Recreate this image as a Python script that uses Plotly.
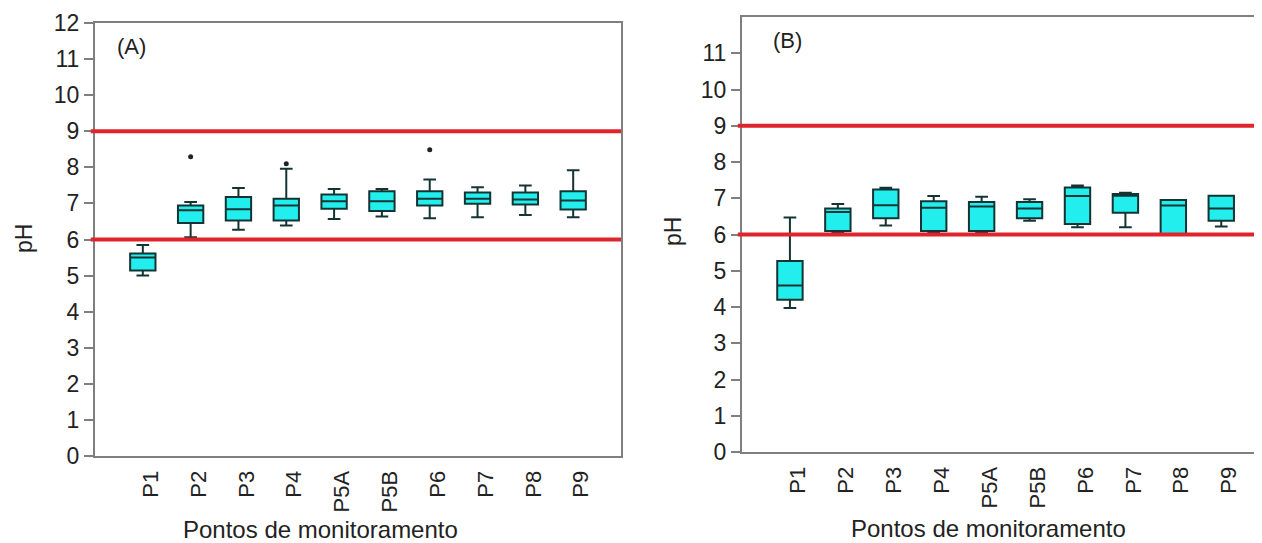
import plotly.graph_objects as go

categories = ["P1", "P2", "P3", "P4", "P5A", "P5B", "P6", "P7", "P8", "P9"]

# Panel A
a_lower = [5.00, 6.06, 6.27, 6.39, 6.57, 6.64, 6.59, 6.62, 6.68, 6.62]
a_q1 = [5.14, 6.46, 6.53, 6.53, 6.85, 6.79, 6.94, 6.99, 6.97, 6.83]
a_median = [5.50, 6.81, 6.84, 6.94, 7.06, 7.06, 7.13, 7.13, 7.11, 7.08]
a_q3 = [5.61, 6.94, 7.18, 7.13, 7.25, 7.34, 7.34, 7.30, 7.30, 7.34]
a_upper = [5.85, 7.04, 7.43, 7.96, 7.40, 7.40, 7.66, 7.45, 7.50, 7.92]
a_out_x = ["P2", "P4", "P6"]
a_out_y = [8.29, 8.10, 8.49]

# Panel B
b_lower = [3.97, 6.05, 6.25, 6.05, 6.05, 6.38, 6.20, 6.20, 5.99, 6.22]
b_q1 = [4.20, 6.10, 6.45, 6.10, 6.10, 6.45, 6.29, 6.60, 6.00, 6.38]
b_median = [4.59, 6.62, 6.81, 6.74, 6.77, 6.72, 7.06, 7.07, 6.80, 6.72]
b_q3 = [5.27, 6.72, 7.24, 6.92, 6.90, 6.90, 7.30, 7.12, 6.95, 7.07]
b_upper = [6.47, 6.84, 7.29, 7.06, 7.04, 6.97, 7.35, 7.15, 6.95, 7.07]

limits = [6, 9]
a_yticks = list(range(0, 13))
b_yticks = list(range(0, 12))

OFF = 8  # page body margin
W, H = 1262 - OFF, 543 - OFF
FONT = "Liberation Sans, Arial, sans-serif"
TXT = "#222222"
GRID = "#7f7f7f"
FILL = "#22eeee"
EDGE = "#143434"
RED = "#e0242c"

fig = go.Figure()

def add_boxes(lo, q1, med, q3, hi, xa, ya):
    fig.add_trace(go.Box(
        x=categories, q1=q1, median=med, q3=q3, lowerfence=lo, upperfence=hi,
        fillcolor=FILL, line=dict(color=EDGE, width=2), width=0.53,
        whiskerwidth=0.5, boxpoints=False, xaxis=xa, yaxis=ya,
        showlegend=False, hoverinfo="skip"))

add_boxes(a_lower, a_q1, a_median, a_q3, a_upper, "x", "y")
fig.add_trace(go.Scatter(x=a_out_x, y=a_out_y, mode="markers",
                         marker=dict(color="#222222", size=5),
                         xaxis="x", yaxis="y", showlegend=False, hoverinfo="skip"))
add_boxes(b_lower, b_q1, b_median, b_q3, b_upper, "x2", "y2")

def px_x(p):
    return (p - OFF) / W

def px_y(p):
    return (H - (p - OFF)) / H

common_x = dict(type="category", showline=True, linecolor=GRID, linewidth=2,
                ticks="", tickangle=-90, showgrid=False, zeroline=False,
                automargin=False, ticklabelshift=8, ticklabelstandoff=4,
                tickfont=dict(family=FONT, size=22, color=TXT),
                categoryorder="array", categoryarray=categories)
common_y = dict(showline=True, linecolor=GRID, linewidth=2, ticks="outside",
                ticklen=9, tickwidth=1.5, tickcolor=GRID, showgrid=False,
                zeroline=False, automargin=False,
                tickfont=dict(family=FONT, size=23, color=TXT))

fig.update_layout(
    width=W, height=H, autosize=False,
    margin=dict(l=0, r=0, t=0, b=0, autoexpand=False),
    paper_bgcolor="white", plot_bgcolor="white",
    xaxis=dict(common_x, domain=[px_x(95), px_x(621)], range=[-1, 10],
               mirror=True, anchor="y"),
    yaxis=dict(common_y, domain=[px_y(456), px_y(23)], range=[0, 12],
               tickvals=a_yticks, mirror=True, anchor="x"),
    xaxis2=dict(common_x, domain=[px_x(742), 1.0], range=[-1, 9.85],
                mirror=True, anchor="y2"),
    yaxis2=dict(common_y, domain=[px_y(452), px_y(17)], range=[0, 12],
                tickvals=b_yticks, mirror=False, anchor="x2"),
)

for xr, yr in (("x", "y"), ("x2", "y2")):
    for v in limits:
        fig.add_shape(type="line", xref=f"{xr} domain", yref=yr, x0=-0.008, x1=1,
                      y0=v, y1=v, line=dict(color=RED, width=4), layer="above")

ann = [
    dict(text="(A)", x=px_x(131), y=px_y(47), size=22),
    dict(text="(B)", x=px_x(787), y=px_y(41), size=22),
    dict(text="Pontos de monitoramento", x=px_x(320), y=px_y(529), size=24),
    dict(text="Pontos de monitoramento", x=px_x(988), y=px_y(528), size=24),
]
for a in ann:
    fig.add_annotation(text=a["text"], x=a["x"], y=a["y"], xref="paper", yref="paper",
                       showarrow=False, xanchor="center", yanchor="middle",
                       font=dict(family=FONT, size=a["size"], color=TXT))
for x, y in ((24, 239), (673, 232)):
    fig.add_annotation(text="pH", x=px_x(x), y=px_y(y), xref="paper", yref="paper",
                       showarrow=False, textangle=-90, xanchor="center", yanchor="middle",
                       font=dict(family=FONT, size=23, color=TXT))

fig.write_html("out.html")
